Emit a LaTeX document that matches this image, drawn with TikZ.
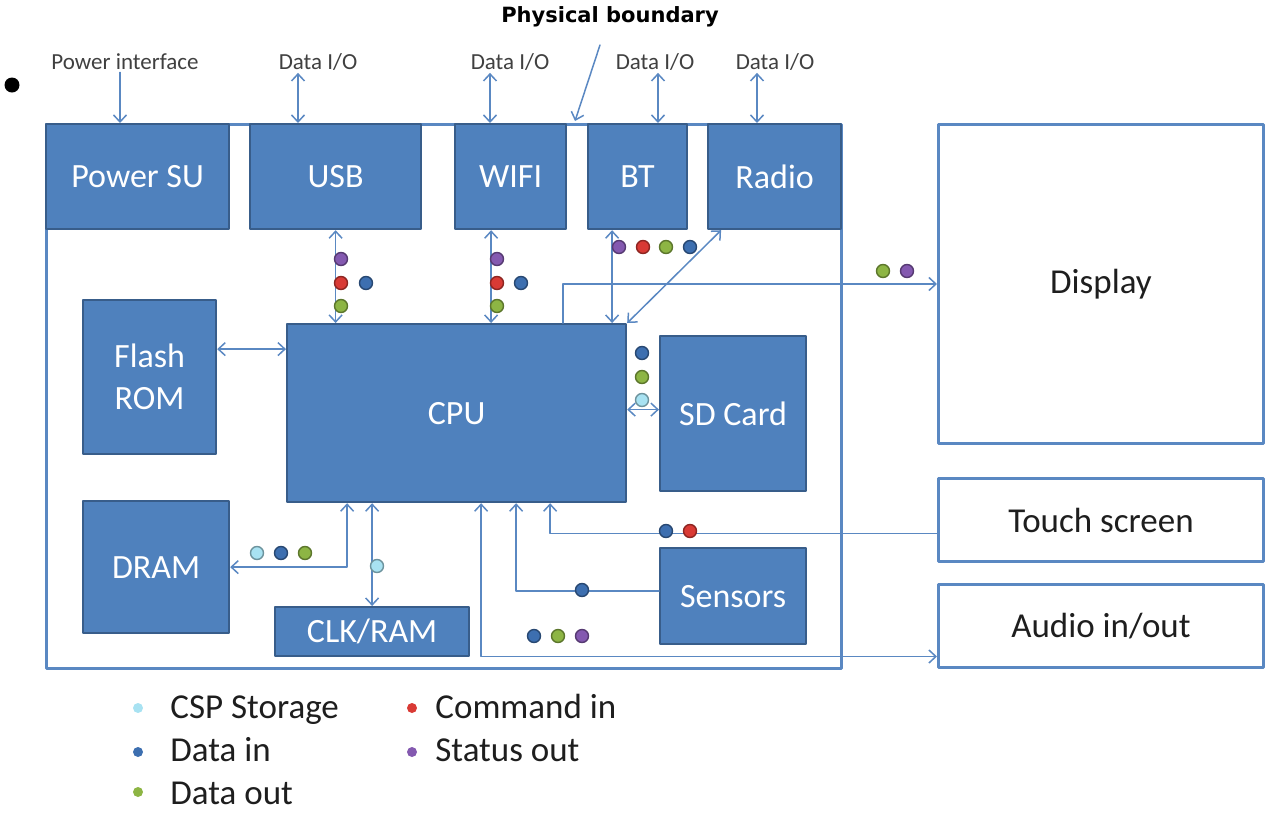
\documentclass[tikz,border=0pt]{standalone}
\usepackage{fontspec}
\setmainfont{Carlito}
\newfontfamily\boundaryfont{DejaVu Sans}
\usepackage{tikz}
\usetikzlibrary{arrows.meta}
\definecolor{boxfill}{HTML}{4F81BD}
\definecolor{boxline}{HTML}{385D8A}
\definecolor{wire}{HTML}{5A88C2}
\definecolor{cspc}{HTML}{A8E2F2}
\definecolor{dinc}{HTML}{3D6FB0}
\definecolor{doutc}{HTML}{8DB544}
\definecolor{cmdc}{HTML}{D93A35}
\definecolor{statc}{HTML}{8459B0}
\definecolor{txt}{HTML}{1E1E1E}
\tikzset{
  blk/.style={draw=boxline,fill=boxfill,line width=1.1pt,anchor=north west,text=white,font=\fontsize{17}{21}\selectfont,align=center,inner sep=0pt},
  outbox/.style={draw=wire,line width=1.5pt,anchor=north west,text=txt,font=\fontsize{17.5}{21}\selectfont,inner sep=0pt},
  link/.style={draw=wire,line width=0.75pt},
  toplbl/.style={text=txt!85,font=\fontsize{11.5}{13}\selectfont,inner sep=1pt},
  sig/.style={circle,inner sep=0pt,minimum size=6.5pt,fill=#1,draw=#1!65!black,line width=0.7pt},
  keydot/.style={circle,inner sep=0pt,minimum size=5pt,fill=#1},
  keytxt/.style={anchor=base west,text=txt,font=\fontsize{17.5}{21}\selectfont,inner sep=0pt}
}
\begin{document}
\begin{tikzpicture}[x=0.5pt,y=-0.5pt,line cap=round,line join=round,>={Straight Barb[length=3.5pt,width=6.5pt]}]
\useasboundingbox (0,0) rectangle (1265,815);
\node[circle,fill=black,inner sep=0pt,minimum size=7.5pt] (bullet) at (12,85) {};
\node[font=\boundaryfont\bfseries\fontsize{10.5}{12}\selectfont,inner sep=1pt] (physb) at (610,17) {Physical boundary};
\node[draw=wire,line width=1.5pt,anchor=north west,minimum width=397.5pt,minimum height=272pt,inner sep=0pt] (board) at (45,123) {};
\node[blk,minimum width=91.5pt,minimum height=52.5pt] (psu) at (45,123) {Power SU};
\node[blk,minimum width=85.5pt,minimum height=52.5pt] (usb) at (249,123) {USB};
\node[blk,minimum width=55.5pt,minimum height=52.5pt] (wifi) at (454,123) {WIFI};
\node[blk,minimum width=49.5pt,minimum height=52.5pt] (bt) at (587,123) {BT};
\node[blk,minimum width=66.5pt,minimum height=52.5pt] (radio) at (707,123) {Radio};
\node[blk,minimum width=66.5pt,minimum height=77pt] (flash) at (82,299) {Flash\\ROM};
\node[blk,minimum width=169.5pt,minimum height=89pt] (cpu) at (286,323) {CPU};
\node[blk,minimum width=73pt,minimum height=77.5pt] (sd) at (659,335) {SD Card};
\node[blk,minimum width=73pt,minimum height=66pt] (dram) at (82,500) {DRAM};
\node[blk,minimum width=97pt,minimum height=24.5pt] (clk) at (274,606) {CLK/RAM};
\node[blk,minimum width=73pt,minimum height=48pt] (sensors) at (659,547) {Sensors};
\node[outbox,minimum width=162.5pt,minimum height=159.5pt] (display) at (937,123) {Display};
\node[outbox,minimum width=162.5pt,minimum height=41.5pt] (touch) at (937,477) {Touch screen};
\node[outbox,minimum width=162.5pt,minimum height=41.5pt] (audio) at (937,583) {Audio in/out};
\node[toplbl] (pwrlbl) at (125,62) {Power interface};
\node[toplbl] (usblbl) at (318,62) {Data I/O};
\node[toplbl] (wifilbl) at (510,62) {Data I/O};
\node[toplbl] (btlbl) at (655,62) {Data I/O};
\node[toplbl] (radiolbl) at (775,62) {Data I/O};
\coordinate (pbtail) at (600,45);
\coordinate (pbtip) at (575,121);
\draw[link,->] (pbtail) -- (pbtip);
\draw[link,->] ([xshift=-2.5pt]pwrlbl.south) -- ([xshift=-2.5pt]pwrlbl.south |- psu.north);
\draw[link,<->] ([xshift=-10pt]usblbl.south) -- ([xshift=-10pt]usblbl.south |- usb.north);
\draw[link,<->] ([xshift=-10pt]wifilbl.south) -- ([xshift=-10pt]wifilbl.south |- wifi.north);
\draw[link,<->] ([xshift=1.5pt]btlbl.south) -- ([xshift=1.5pt]btlbl.south |- bt.north);
\draw[link,<->] ([xshift=-9pt]radiolbl.south) -- ([xshift=-9pt]radiolbl.south |- radio.north);
\draw[link,<->] (usb.south) -- (usb.south |- cpu.north);
\draw[link,<->] ([xshift=-9.75pt]wifi.south) -- ([xshift=-9.75pt]wifi.south |- cpu.north);
\draw[link,<->] ([xshift=-12.75pt]bt.south) -- ([xshift=-12.75pt]bt.south |- cpu.north);
\draw[link,<->] ([xshift=-26.75pt]radio.south) -- (cpu.north east);
\draw[link,->] ([xshift=53.25pt]cpu.north) |- (display.west);
\draw[link,<->] ([yshift=14pt]flash.east) -- ([yshift=14pt]flash.east -| cpu.west);
\draw[link,<->] ([yshift=2pt]sd.west) -- ([yshift=2pt]sd.west -| cpu.east);
\draw[link,<->] (dram.east) -| ([xshift=-54.75pt]cpu.south);
\draw[link,<->] (cpu.south -| clk.north) -- (clk.north);
\draw[link,<->] ([xshift=12.25pt]cpu.south) |- ([yshift=-15.25pt]audio.west);
\draw[link,->] ([yshift=2.5pt]sensors.west) -| ([xshift=29.75pt]cpu.south);
\draw[link,->] ([yshift=-6.75pt]touch.west) -| ([xshift=46.75pt]cpu.south);
\foreach \c/\x/\y [count=\i] in {statc/341/259,cmdc/341/283,dinc/366/283,doutc/341/306,
  statc/497/259,cmdc/497/283,dinc/521/283,doutc/497/306,
  statc/619/247,cmdc/643/247,doutc/666/247,dinc/690/247,
  doutc/883/271,statc/907/271,dinc/642/353,doutc/642/377,cspc/642/400,
  cspc/257/553,dinc/281/553,doutc/305/553,cspc/377/566,
  dinc/534/636,doutc/558/636,statc/582/636,dinc/582/590,dinc/666/531,cmdc/690/531}
  \node[sig=\c] (sig\i) at (\x,\y) {};
\node[keydot=cspc] (kcsp) at (138,708) {};
\node[keydot=dinc] (kdin) at (138,752) {};
\node[keydot=doutc] (kdout) at (138,792) {};
\node[keydot=cmdc] (kcmd) at (412,708) {};
\node[keydot=statc] (kstat) at (412,752) {};
\node[keytxt] (tcsp) at (170,718) {CSP Storage};
\node[keytxt] (tdin) at (170,761) {Data in};
\node[keytxt] (tdout) at (170,804) {Data out};
\node[keytxt] (tcmd) at (435,718) {Command in};
\node[keytxt] (tstat) at (435,761) {Status out};
\end{tikzpicture}
\end{document}
